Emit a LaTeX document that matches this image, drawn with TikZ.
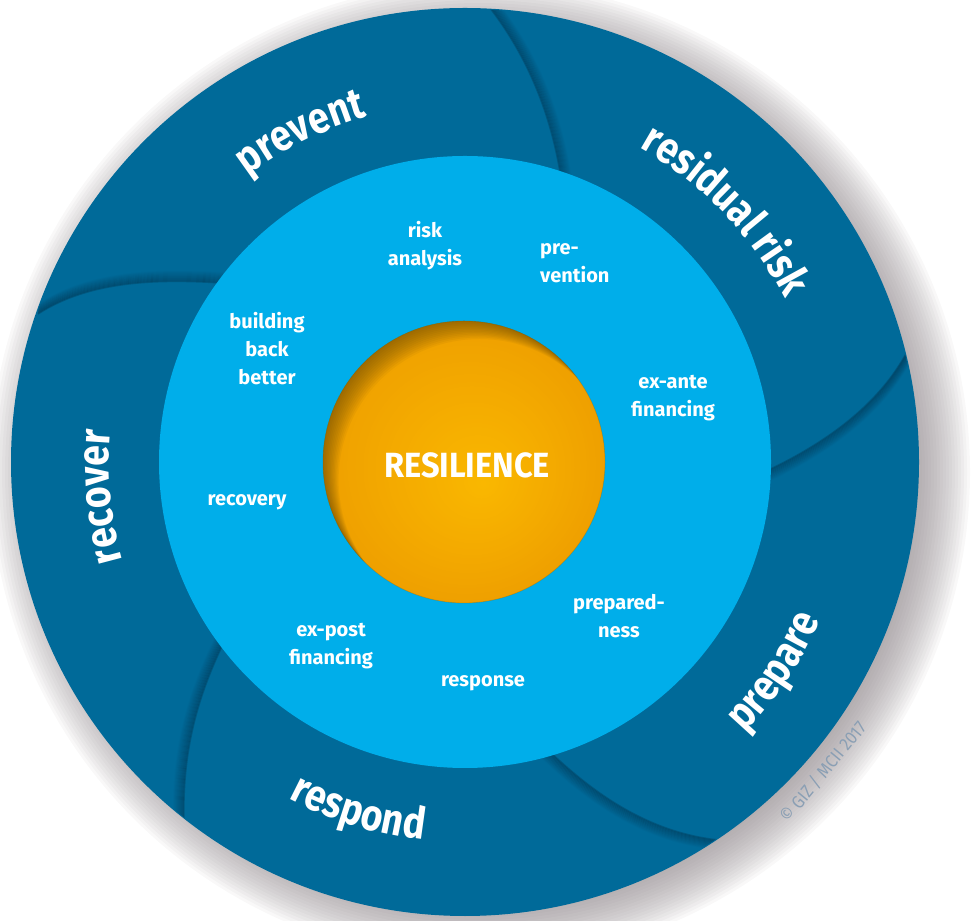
\documentclass[tikz,border=0pt]{standalone}
\usepackage{fontspec}
\setmainfont{Fira Sans}
\newfontfamily\outerfont{Fira Sans}[FakeStretch=0.85]
\newfontfamily\resfont{Fira Sans}[FakeStretch=0.93]
\newfontfamily\innerfont{Fira Sans}
\newfontfamily\copyfont{Fira Sans}[FakeStretch=0.9]
\usetikzlibrary{decorations.text,calc}
\definecolor{ringblue}{HTML}{006A99}
\definecolor{midblue}{HTML}{00AEEA}
\definecolor{seamdark}{HTML}{00283F}
\definecolor{orEdge}{HTML}{EFA000}
\definecolor{orCenter}{HTML}{FAB800}
\definecolor{orRim}{HTML}{6B4A00}
\definecolor{shadowgray}{HTML}{8A8286}
\definecolor{copygray}{HTML}{8A9FB4}
\newcommand\outerstyle{\outerfont\bfseries\fontsize{44}{50}\selectfont}
\begin{document}
\begin{tikzpicture}[x=1pt,y=1pt,
  innerlabel/.style={text=white, font=\innerfont\bfseries\fontsize{20}{28}\selectfont, align=center, inner sep=0pt},
  seamline/.style={seamdark, line width=1.6pt},
  ringlabel/.style={decorate, decoration={text along path, text align=center, text color=white, text={|\outerstyle|#1}}}
]
\useasboundingbox (0,0) rectangle (973,920);
\coordinate (O) at (465,458);
% drop shadow
\foreach \r in {436,439,...,490} {
  \fill[shadowgray, opacity=0.055] ($(O)+(15,-10)$) circle[radius=\r pt];
}
% outer ring
\fill[ringblue] (O) circle[radius=454pt];
% seams between the petals, with soft shadow on the clockwise side
\begin{scope}
\clip (O) circle[radius=453pt];
\foreach \k [evaluate=\k as \op using {0.28*(1-\k/11)}] in {0,...,10} {
  \draw[seamline, opacity=\op, shift={(\k*0.95,\k*0.3)}]
    (490,912) .. controls (530,860) and (553,800) .. (562,735);
  \draw[seamline, opacity=\op, shift={(\k*0.3,-\k*0.95)}]
    (912,578) .. controls (885,520) and (830,478) .. (760,446);
  \draw[seamline, opacity=\op, shift={(-\k*0.5,-\k*0.87)}]
    (548,170) .. controls (590,130) and (645,88) .. (718,80);
  \draw[seamline, opacity=\op, shift={(-\k*1.0,\k*0.15)}]
    (225,280) .. controls (198,225) and (182,170) .. (184,98);
  \draw[seamline, opacity=\op, shift={(\k*0.1,\k*1.0)}]
    (222,637) .. controls (160,641) and (90,640) .. (38,606);
}
\end{scope}
% middle disc
\fill[midblue] (O) circle[radius=306pt];
% centre ball
\coordinate (C) at (464,458);
\foreach \i [evaluate=\i as \rr using {141*(1-\i/40)},
             evaluate=\i as \pc using {100*\i/40},
             evaluate=\i as \sx using {20*\i/40},
             evaluate=\i as \sy using {-22*\i/40}] in {0,...,39} {
  \fill[orCenter!\pc!orEdge] ($(C)+(\sx,\sy)$) circle[radius=\rr pt];
}
\begin{scope}
\clip (C) circle[radius=141pt];
\foreach \k in {1,...,12} {
  \fill[orRim, opacity=0.065, even odd rule] (C) circle[radius=143pt] ($(C)+(\k*1.3,-\k*1.5)$) circle[radius=141pt];
}
\end{scope}
\draw[orRim, opacity=0.2, line width=0.8pt] (C) circle[radius=141pt];
\node[text=white, font=\resfont\bfseries\fontsize{35}{40}\selectfont, inner sep=0pt] (res) at (467,455) {RESILIENCE};
% ring labels
\path[ringlabel=prevent] ($(O)+(156:359pt)$) arc[start angle=156, end angle=77, radius=359pt];
\path[ringlabel={residual risk}] ($(O)+(89:359pt)$) arc[start angle=89, end angle=-1, radius=359pt];
\path[ringlabel=recover] ($(O)+(225:356pt)$) arc[start angle=225, end angle=146, radius=356pt];
\path[ringlabel=prepare] ($(O)+(-74:389pt)$) arc[start angle=-74, end angle=6, radius=389pt];
\path[ringlabel=respond] ($(O)+(-147:380pt)$) arc[start angle=-147, end angle=-67, radius=380pt];
% inner labels
\node[innerlabel] (riskan) at (425,674.5) {risk\\analysis};
\node[innerlabel, align=left, anchor=west] (prev) at (540,656.5) {pre-\\vention};
\node[innerlabel] (bbb) at (267,571) {building\\back\\better};
\node[innerlabel] (exante) at (673,521.5) {ex-ante\\financing};
\node[innerlabel] (recov) at (247,418) {recovery};
\node[innerlabel] (prepd) at (619,304) {prepared-\\ness};
\node[innerlabel] (expost) at (331,273.5) {ex-post\\financing};
\node[innerlabel] (resp) at (483,236.5) {response};
% copyright
\node[text=copygray, font=\copyfont\fontsize{18}{20}\selectfont, rotate=50.5, inner sep=0pt] (copy) at (823,148) {© GIZ / MCII 2017};
\end{tikzpicture}
\end{document}
